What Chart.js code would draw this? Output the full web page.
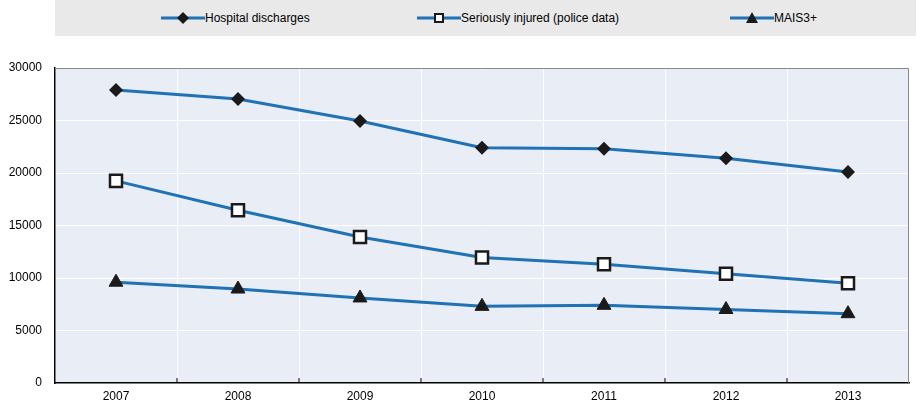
<!DOCTYPE html>
<html>
<head>
<meta charset="utf-8">
<script src="https://cdn.jsdelivr.net/npm/chart.js@4/dist/chart.umd.min.js"></script>
<style>
    body { margin: 0; background: #fff; }
    #wrap { position: relative; width: 920px; height: 406px; }
    #legend {
        position: absolute; left: 55px; top: 0; width: 861px; height: 36px;
        background: #e9e9e9; font-family: "Liberation Sans Narrow", "Arial Narrow", "Liberation Sans", sans-serif;
        font-size: 12px; color: #000;
    }
    .item { position: absolute; top: 10px; height: 16px; line-height: 16px; white-space: nowrap; }
    .item canvas { vertical-align: middle; margin-top: -2px; }
</style>
</head>
<body>
<div id="wrap">
    <div id="legend"></div>
    <canvas id="chart" width="920" height="406"></canvas>
</div>
<script>
'use strict';

var years = ['2007', '2008', '2009', '2010', '2011', '2012', '2013'];
var hospitalDischarges = [27900, 27050, 24950, 22400, 22300, 21400, 20100];
var seriouslyInjured = [19250, 16450, 13900, 11950, 11300, 10400, 9500];
var mais3 = [9600, 8950, 8100, 7300, 7400, 7000, 6600];
var yTicks = [0, 5000, 10000, 15000, 20000, 25000, 30000];

var lineColor = '#1f72b4';
var markColor = '#1a1a1a';
var fontFamily = '"Liberation Sans Narrow", "Arial Narrow", "Liberation Sans", sans-serif';

var seriesInfo = [
    { label: 'Hospital discharges', data: hospitalDischarges, style: 'rectRot', fill: markColor, radius: 7, border: 0, left: 106 },
    { label: 'Seriously injured (police data)', data: seriouslyInjured, style: 'rect', fill: '#ffffff', radius: 8.5, border: 2.5, left: 362 },
    { label: 'MAIS3+', data: mais3, style: 'triangle', fill: markColor, radius: 8, border: 1, left: 675 }
];

// legend: line with marker, drawn on small canvases
var legendDiv = document.getElementById('legend');
seriesInfo.forEach(function (s) {
    var item = document.createElement('div');
    item.className = 'item';
    item.style.left = s.left + 'px';
    var c = document.createElement('canvas');
    c.width = 44; c.height = 16;
    var ctx = c.getContext('2d');
    ctx.strokeStyle = lineColor; ctx.lineWidth = 3;
    ctx.beginPath(); ctx.moveTo(0, 8); ctx.lineTo(44, 8); ctx.stroke();
    ctx.fillStyle = s.fill; ctx.strokeStyle = markColor; ctx.lineWidth = 2;
    if (s.style === 'rect') {
        ctx.fillRect(18, 4, 8, 8); ctx.strokeRect(18, 4, 8, 8);
    } else if (s.style === 'rectRot') {
        ctx.beginPath(); ctx.moveTo(22, 2); ctx.lineTo(28, 8); ctx.lineTo(22, 14); ctx.lineTo(16, 8); ctx.closePath(); ctx.fill();
    } else {
        ctx.beginPath(); ctx.moveTo(22, 2); ctx.lineTo(28, 13); ctx.lineTo(16, 13); ctx.closePath(); ctx.fill();
    }
    item.appendChild(c);
    item.appendChild(document.createTextNode(s.label));
    legendDiv.appendChild(item);
});

var plotBackground = {
    id: 'plotBackground',
    beforeDraw: function (chart) {
        var a = chart.chartArea, ctx = chart.ctx;
        ctx.save();
        ctx.fillStyle = '#e8edf6';
        ctx.fillRect(a.left, a.top, a.right - a.left, a.bottom - a.top);
        ctx.restore();
    },
    afterDraw: function (chart) {
        var a = chart.chartArea, ctx = chart.ctx;
        ctx.save();
        ctx.strokeStyle = '#888';
        ctx.lineWidth = 1;
        ctx.beginPath();
        ctx.moveTo(a.left, a.top + 0.5); ctx.lineTo(a.right - 0.5, a.top + 0.5); ctx.lineTo(a.right - 0.5, a.bottom);
        ctx.stroke();
        // small inward tick marks at category boundaries
        var x = chart.scales.x;
        ctx.strokeStyle = '#000';
        for (var i = 1; i < years.length; i++) {
            var px = (x.getPixelForValue(i - 1) + x.getPixelForValue(i)) / 2;
            ctx.beginPath(); ctx.moveTo(px, a.bottom); ctx.lineTo(px, a.bottom - 5); ctx.stroke();
        }
        ctx.restore();
    }
};

new Chart(document.getElementById('chart'), {
    type: 'line',
    data: {
        labels: years,
        datasets: seriesInfo.map(function (s) {
            return {
                label: s.label,
                data: s.data,
                borderColor: lineColor,
                borderWidth: 3,
                pointStyle: s.style,
                pointRadius: s.radius,
                pointBackgroundColor: s.fill,
                pointBorderColor: markColor,
                pointBorderWidth: s.border,
                tension: 0
            };
        })
    },
    options: {
        responsive: false,
        animation: false,
        layout: { padding: { top: 68, right: 0, left: 0, bottom: 0 } },
        plugins: { legend: { display: false }, tooltip: { enabled: false } },
        scales: {
            x: {
                offset: true,
                grid: { color: '#ffffff', lineWidth: 1, offset: true, drawTicks: false },
                border: { color: '#000', width: 1.5 },
                ticks: { color: '#000', font: { family: fontFamily, size: 12 }, padding: 6 },
                afterFit: function (s) { s.height = 23; s.paddingLeft = 0; s.paddingRight = 0; }
            },
            y: {
                min: 0, max: 30000,
                afterBuildTicks: function (s) { s.ticks = yTicks.map(function (v) { return { value: v }; }); },
                grid: { color: '#ffffff', lineWidth: 1, drawTicks: false },
                border: { color: '#000', width: 1.5 },
                ticks: {
                    color: '#000', font: { family: fontFamily, size: 12 }, padding: 13,
                    callback: function (v) { return String(v); }
                },
                afterFit: function (s) { s.width = 55; s.paddingTop = 0; s.paddingBottom = 0; }
            }
        }
    },
    plugins: [plotBackground]
});
</script>
</body>
</html>
